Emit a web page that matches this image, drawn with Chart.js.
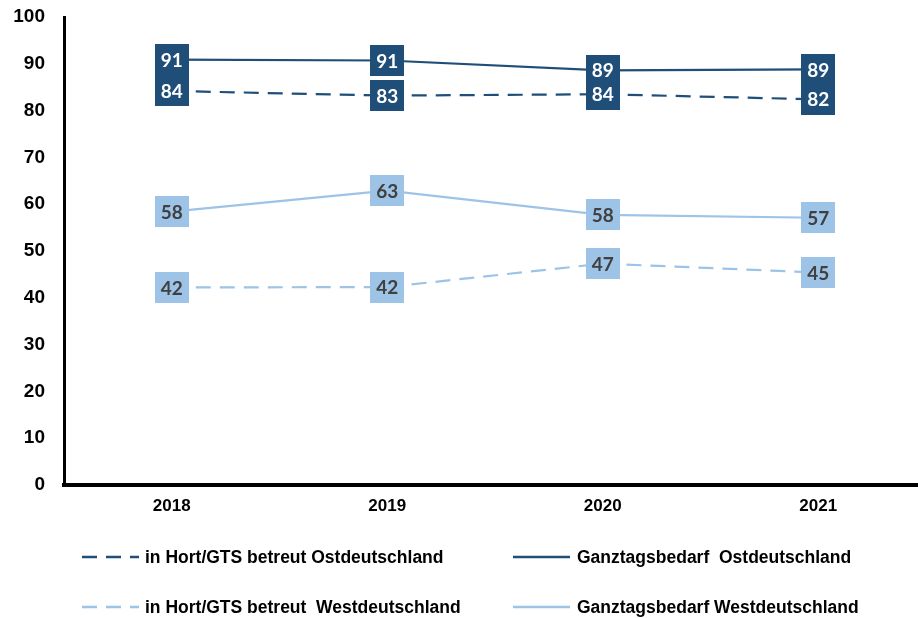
<!DOCTYPE html>
<html>
<head>
<meta charset="utf-8">
<script src="https://cdn.jsdelivr.net/npm/chart.js@4/dist/chart.umd.min.js"></script>
<style>
  html, body { margin:0; padding:0; background:#fff; width:918px; height:618px; overflow:hidden; }
  #wrap { position:relative; width:926px; height:618px; }
  #legend { position:absolute; left:0; top:0; width:918px; height:618px; pointer-events:none;
            font-family:"Liberation Sans", Arial, sans-serif; font-weight:bold; font-size:17.5px; color:#000; }
  .item { position:absolute; white-space:pre; height:20px; line-height:20px; }
  .item svg { position:absolute; top:0; }
  .item span { position:absolute; top:0; }
</style>
</head>
<body>
<div id="wrap">
  <canvas id="c" width="926" height="618"></canvas>
  <div id="legend"></div>
</div>
<script>
const categories = ['2018', '2019', '2020', '2021'];
const seriesNames = [
  'in Hort/GTS betreut Ostdeutschland',
  'Ganztagsbedarf  Ostdeutschland',
  'in Hort/GTS betreut  Westdeutschland',
  'Ganztagsbedarf Westdeutschland'
];
const hortOst   = [84.2, 83.2, 83.5, 82.4];
const ganzOst   = [90.9, 90.7, 88.6, 88.8];
const hortWest  = [42.2, 42.3, 47.3, 45.4];
const ganzWest  = [58.4, 62.9, 57.7, 57.1];

const DARK = '#1F4E79';
const LIGHT = '#9DC3E6';

const seriesValues = [hortOst, ganzOst, hortWest, ganzWest];
const seriesColor = [DARK, DARK, LIGHT, LIGHT];
const seriesDash = [[15, 9], [], [15, 9], []];
const seriesText = ['#FFFFFF', '#FFFFFF', '#404040', '#404040'];

const datasets = seriesValues.map((vals, i) => ({
  label: seriesNames[i],
  data: vals,
  borderColor: seriesColor[i],
  backgroundColor: seriesColor[i],
  borderWidth: 2.2,
  borderDash: seriesDash[i],
  pointRadius: 0,
  tension: 0,
  fill: false,
  boxColor: seriesColor[i],
  textColor: seriesText[i]
}));

const boxLabels = {
  id: 'boxLabels',
  afterDatasetsDraw(chart) {
    const ctx = chart.ctx;
    ctx.save();
    chart.data.datasets.forEach((ds, i) => {
      const meta = chart.getDatasetMeta(i);
      meta.data.forEach((pt, j) => {
        ctx.fillStyle = ds.boxColor;
        ctx.fillRect(Math.round(pt.x - 17), Math.round(pt.y - 15.5), 34, 31);
      });
    });
    chart.data.datasets.forEach((ds, i) => {
      const meta = chart.getDatasetMeta(i);
      meta.data.forEach((pt, j) => {
        ctx.fillStyle = ds.textColor;
        ctx.font = 'bold 19px Lato, "Open Sans", sans-serif';
        ctx.textAlign = 'center';
        ctx.textBaseline = 'middle';
        ctx.fillText(String(Math.round(ds.data[j])), pt.x, pt.y + 1);
      });
    });
    ctx.restore();
  }
};

new Chart(document.getElementById('c'), {
  type: 'line',
  data: { labels: categories, datasets: datasets },
  options: {
    responsive: false,
    animation: false,
    devicePixelRatio: 1,
    layout: { padding: { top: 17, left: 0, right: 0, bottom: 0 } },
    plugins: { legend: { display: false }, tooltip: { enabled: false } },
    scales: {
      x: {
        offset: true,
        grid: { display: false, drawTicks: false },
        border: { display: true, color: '#000', width: 4 },
        ticks: { color: '#000', font: { family: '"Liberation Sans", Arial, sans-serif', weight: 'bold', size: 17 }, padding: 11 },
        afterFit: (s) => { s.height = 133; s.paddingLeft = 0; s.paddingRight = 0; }
      },
      y: {
        min: 0, max: 100,
        grid: { display: false, drawTicks: false },
        border: { display: true, color: '#000', width: 3 },
        ticks: { stepSize: 10, color: '#000', font: { family: '"Liberation Sans", Arial, sans-serif', weight: 'bold', size: 19 }, padding: 19 },
        afterFit: (s) => { s.width = 64; s.paddingTop = 0; s.paddingBottom = 0; }
      }
    }
  },
  plugins: [boxLabels]
});

// HTML legend built from the series definitions
const legendPos = [
  { lx: 82, lw: 57, tx: 145, y: 547 },
  { lx: 513, lw: 57, tx: 577, y: 547 },
  { lx: 82, lw: 57, tx: 145, y: 597 },
  { lx: 513, lw: 57, tx: 577, y: 597 }
];
const legend = document.getElementById('legend');
seriesNames.forEach((name, i) => {
  const p = legendPos[i];
  const d = document.createElement('div');
  d.className = 'item';
  d.style.left = p.lx + 'px';
  d.style.top = p.y + 'px';
  const dash = seriesDash[i].length ? `stroke-dasharray="${seriesDash[i].join(' ')}"` : '';
  d.innerHTML = `<svg width="${p.lw}" height="20" style="left:0"><line x1="0" y1="10" x2="${p.lw}" y2="10" stroke="${seriesColor[i]}" stroke-width="2.5" ${dash}/></svg><span style="left:${p.tx - p.lx}px"></span>`;
  d.querySelector('span').textContent = name;
  legend.appendChild(d);
});
</script>
</body>
</html>
